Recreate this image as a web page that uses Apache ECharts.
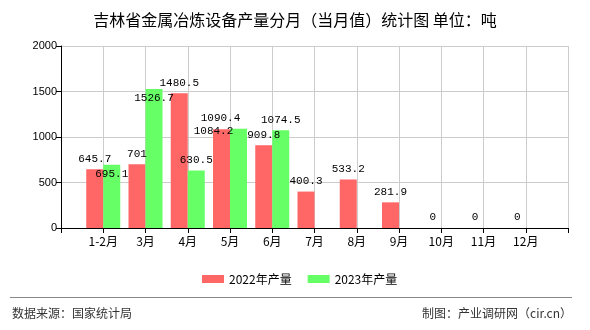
<!DOCTYPE html>
<html>
<head>
<meta charset="utf-8">
<script src="https://cdn.jsdelivr.net/npm/echarts@6/dist/echarts.min.js"></script>
<style>
  html, body { margin: 0; padding: 0; background: #fff; }
  #chart { width: 590px; height: 330px; }
</style>
</head>
<body>
<div id="chart"></div>
<script>
// Monthly output (tonnes) of metal smelting equipment, Jilin province
const months = ['1-2月', '3月', '4月', '5月', '6月', '7月', '8月', '9月', '10月', '11月', '12月'];
const output2022 = [645.7, 701, 1480.5, 1084.2, 909.8, 400.3, 533.2, 281.9, 0, 0, 0];
const output2023 = [695.1, 1526.7, 630.5, 1090.4, 1074.5];
const yTicks = [0, 500, 1000, 1500, 2000];

// a few value labels are nudged so neighbouring labels do not collide
const labelNudge = {
  '2022': { 3: [-8, 12] },
  '2023': { 0: [0, 20], 1: [0, 20], 3: [-18, 0] }
};

const CJK = '"Noto Sans CJK SC", "Noto Sans", sans-serif';
const MONO = '"Liberation Mono", "DejaVu Sans Mono", monospace';

// the axis runs with an empty slot at each end, so months sit on ticks
const axisCats = [''].concat(months, ['']);

function seriesData(values, key) {
  const out = [null];
  months.forEach(function (m, i) {
    if (i >= values.length) { out.push(null); return; }
    const item = { value: values[i] };
    const n = labelNudge[key][i];
    if (n) item.label = { offset: n };
    out.push(item);
  });
  out.push(null);
  return out;
}

const chart = echarts.init(document.getElementById('chart'), null, { renderer: 'canvas' });

const valueLabel = {
  show: true,
  position: 'top',
  distance: 5,
  color: '#000',
  fontFamily: MONO,
  fontSize: 11
};

chart.setOption({
  animation: false,
  backgroundColor: '#fff',
  title: {
    text: '吉林省金属冶炼设备产量分月（当月值）统计图 单位：吨',
    left: 'center',
    top: 7,
    textStyle: { fontFamily: CJK, fontSize: 16, fontWeight: 'normal', color: '#000' }
  },
  legend: {
    data: ['2022年产量', '2023年产量'],
    left: 197,
    top: 268,
    itemWidth: 22,
    itemHeight: 8,
    itemGap: 16,
    icon: 'rect',
    textStyle: { fontFamily: CJK, fontSize: 12, color: '#000' }
  },
  grid: { left: 61, right: 22, top: 46, bottom: 102, containLabel: false },
  xAxis: {
    type: 'category',
    data: axisCats,
    boundaryGap: false,
    axisLine: { lineStyle: { color: '#000', width: 1 } },
    axisTick: { show: true, length: 5, interval: 0, lineStyle: { color: '#000' } },
    axisLabel: { interval: 0, margin: 7, fontFamily: CJK, fontSize: 12, color: '#000' },
    splitLine: { show: true, interval: 0, lineStyle: { color: '#cccccc', width: 1 } }
  },
  yAxis: {
    type: 'value',
    min: yTicks[0],
    max: yTicks[yTicks.length - 1],
    interval: yTicks[1] - yTicks[0],
    axisLine: { show: true, lineStyle: { color: '#000', width: 1 } },
    axisTick: { show: true, length: 5, lineStyle: { color: '#000' } },
    axisLabel: {
      margin: 4,
      formatter: function (v) { return String(v); },
      fontFamily: '"Liberation Sans", Arial, sans-serif',
      fontSize: 11,
      color: '#000'
    },
    splitLine: { show: true, lineStyle: { color: '#cccccc', width: 1 } }
  },
  series: [
    {
      name: '2022年产量',
      type: 'bar',
      data: seriesData(output2022, '2022'),
      barWidth: 17,
      barGap: '0%',
      itemStyle: { color: '#ff6666' },
      label: valueLabel
    },
    {
      name: '2023年产量',
      type: 'bar',
      data: seriesData(output2023, '2023'),
      barWidth: 17,
      barGap: '0%',
      itemStyle: { color: '#66ff66' },
      label: valueLabel
    }
  ],
  graphic: [
    {
      type: 'line',
      shape: { x1: 10, y1: 297.5, x2: 572, y2: 297.5 },
      style: { stroke: '#888', lineWidth: 1 },
      silent: true
    },
    {
      type: 'text',
      left: 12,
      top: 307,
      style: { text: '数据来源：国家统计局', font: '12px ' + CJK, fill: '#333' }
    },
    {
      type: 'text',
      right: 18,
      top: 307,
      style: { text: '制图：产业调研网（cir.cn）', font: '12px ' + CJK, fill: '#333' }
    }
  ]
});
</script>
</body>
</html>
